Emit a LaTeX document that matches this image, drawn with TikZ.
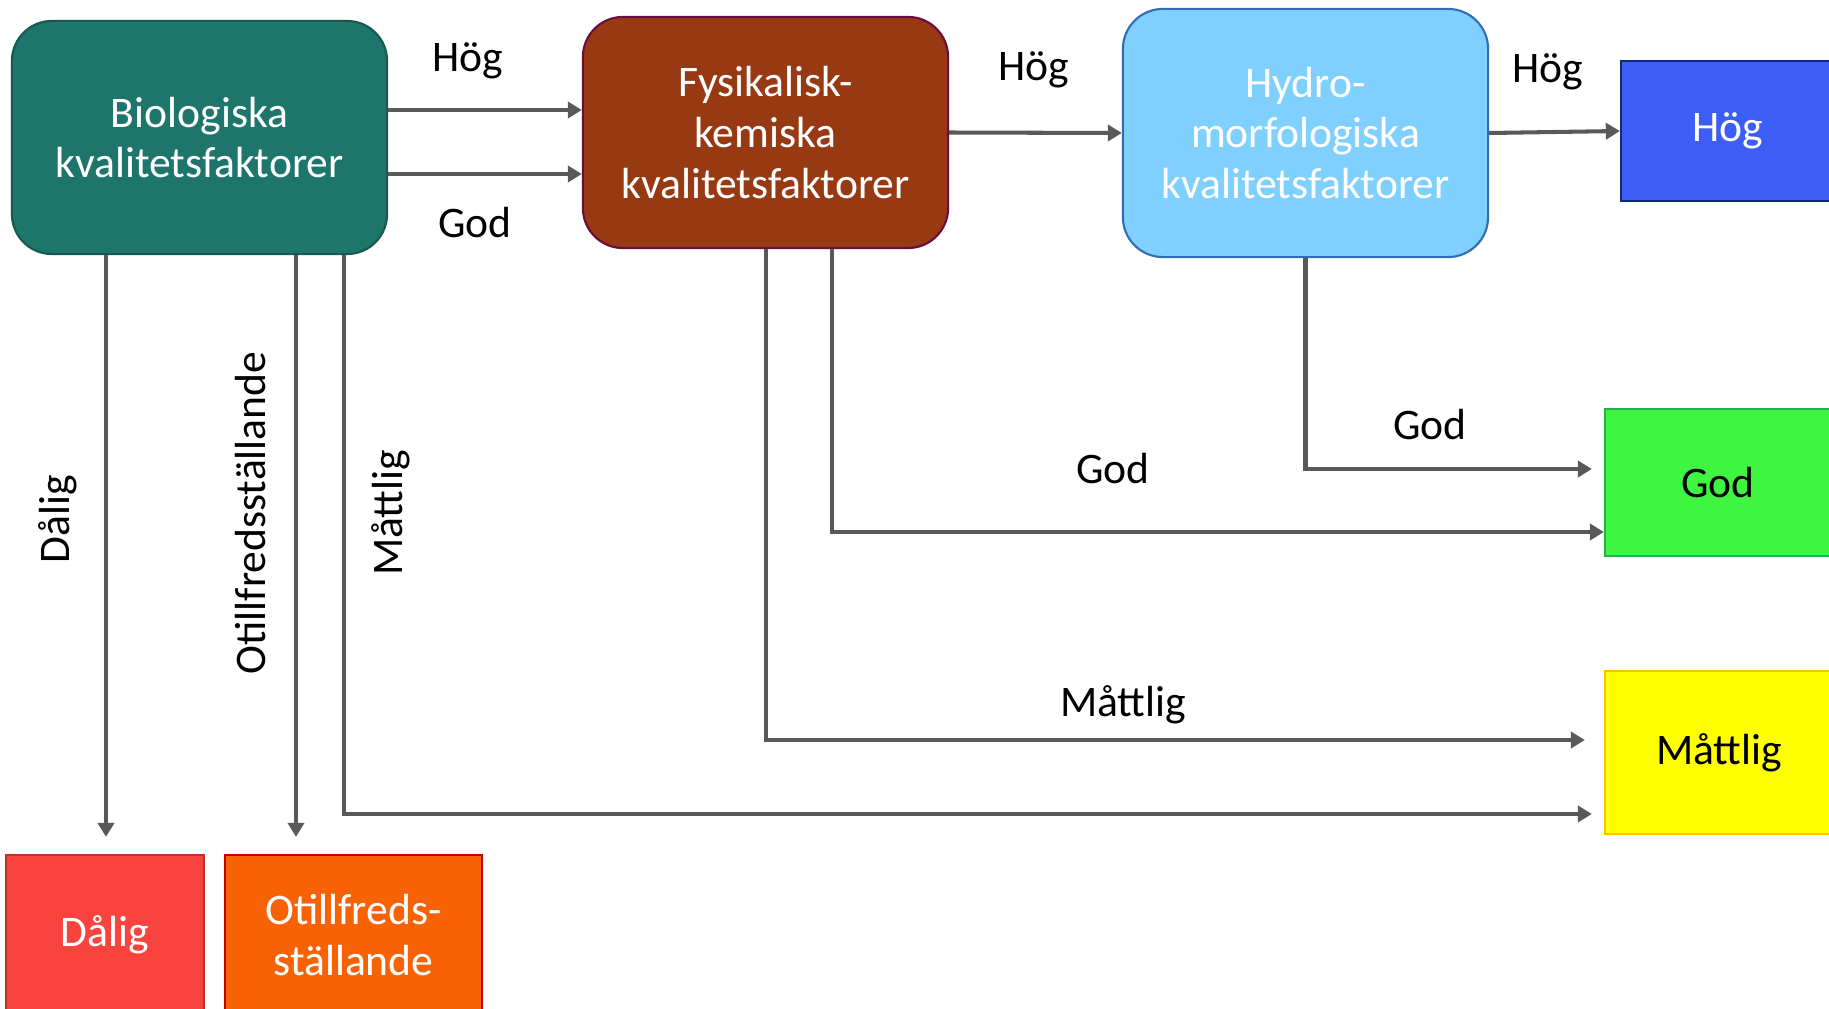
\documentclass[tikz,border=0pt]{standalone}
\usepackage{fontspec}
\setmainfont{Carlito}
\usetikzlibrary{arrows.meta}

\definecolor{bioteal}{HTML}{1E756B}
\definecolor{biorand}{HTML}{155A52}
\definecolor{fysbrun}{HTML}{973A14}
\definecolor{fysrand}{HTML}{6A0D3C}
\definecolor{hydroblå}{HTML}{80D0FF}
\definecolor{hydrorand}{HTML}{2E6EB5}
\definecolor{hogblå}{HTML}{3D5EF5}
\definecolor{hogrand}{HTML}{0E2A70}
\definecolor{godgrön}{HTML}{40F540}
\definecolor{godrand}{HTML}{22B050}
\definecolor{mgul}{HTML}{FFFF00}
\definecolor{mrand}{HTML}{FFC000}
\definecolor{dröd}{HTML}{F9433E}
\definecolor{drand}{HTML}{C0302A}
\definecolor{oorange}{HTML}{F76205}
\definecolor{orand}{HTML}{C00000}
\definecolor{pilgrå}{HTML}{595959}

\tikzset{
  faktor/.style={rectangle, rounded corners=0.4cm, line width=0.6pt, align=center, text=white},
  klass/.style={rectangle, line width=0.6pt, align=center},
  pil/.style={draw=pilgrå, line width=1.15pt, -{Triangle[length=4pt,width=4.6pt]}},
  etikett/.style={text=black, inner sep=1pt}
}

\begin{document}
\begin{tikzpicture}[x=0.01cm, y=-0.01cm, font=\fontsize{12.4}{14.4}\selectfont]

\useasboundingbox (0,0) rectangle (1829,1009);
\clip (0,0) rectangle (1829,1009);

\node[faktor, fill=bioteal, draw=biorand, minimum width=3.75cm, minimum height=2.33cm] (bio) at (199.5,137.5) {Biologiska\\kvalitetsfaktorer};
\node[faktor, fill=fysbrun, draw=fysrand, minimum width=3.65cm, minimum height=2.31cm] (fys) at (765.5,132.5) {Fysikalisk-\\kemiska\\kvalitetsfaktorer};
\node[faktor, fill=hydroblå, draw=hydrorand, minimum width=3.65cm, minimum height=2.48cm] (hydro) at (1305.5,133) {Hydro-\\morfologiska\\kvalitetsfaktorer};

\node[klass, fill=hogblå, draw=hogrand, text=white, minimum width=2.14cm, minimum height=1.4cm] (hog) at (1728,131) {Hög};
\node[klass, fill=godgrön, draw=godrand, minimum width=2.26cm, minimum height=1.47cm] (god) at (1718,482.5) {God};
\node[klass, fill=mgul, draw=mrand, minimum width=2.28cm, minimum height=1.63cm] (mattlig) at (1719,752.5) {Måttlig};
\node[klass, fill=dröd, draw=drand, text=white, minimum width=1.98cm, minimum height=1.6cm] (dalig) at (105,935) {Dålig};
\node[klass, fill=oorange, draw=orand, text=white, minimum width=2.57cm, minimum height=1.6cm] (otill) at (353.5,935) {Otillfreds-\\ställande};

\draw[pil] (bio.east |- 0,110) -- (fys.west |- 0,110);
\draw[pil] (bio.east |- 0,174) -- (fys.west |- 0,174);
\draw[pil] (fys.east) -- (hydro.west);
\draw[pil] (hydro.east) -- (hog.west);

\draw[pil] (hydro.south) -- (hydro.south |- 0,469) -- ([xshift=-0.12cm]god.west |- 0,469);
\draw[pil] (fys.south -| 832,0) -- (832,532) -- (god.west |- 0,532);
\draw[pil] (fys.south -| 766,0) -- (766,740) -- ([xshift=-0.19cm]mattlig.west |- 0,740);
\draw[pil] (bio.south -| 344,0) -- (344,814) -- ([xshift=-0.12cm]mattlig.west |- 0,814);

\draw[pil] (bio.south -| 106,0) -- ([yshift=0.17cm]dalig.north -| 106,0);
\draw[pil] (bio.south -| 296,0) -- ([yshift=0.17cm]otill.north -| 296,0);

\node[etikett] (lHog1) at (468,61) {Hög};
\node[etikett] (lGod1) at (475,223) {God};
\node[etikett] (lHog2) at (1034,70) {Hög};
\node[etikett] (lHog3) at (1548,72) {Hög};
\node[etikett] (lGod2) at (1430,425) {God};
\node[etikett] (lGod3) at (1113,469) {God};
\node[etikett] (lMatt1) at (1123,705) {Måttlig};
\node[etikett, rotate=90] (lMatt2) at (391,513) {Måttlig};
\node[etikett, rotate=90] (lOtill) at (251,513) {Otillfredsställande};
\node[etikett, rotate=90] (lDalig) at (58,519) {Dålig};

\end{tikzpicture}
\end{document}
